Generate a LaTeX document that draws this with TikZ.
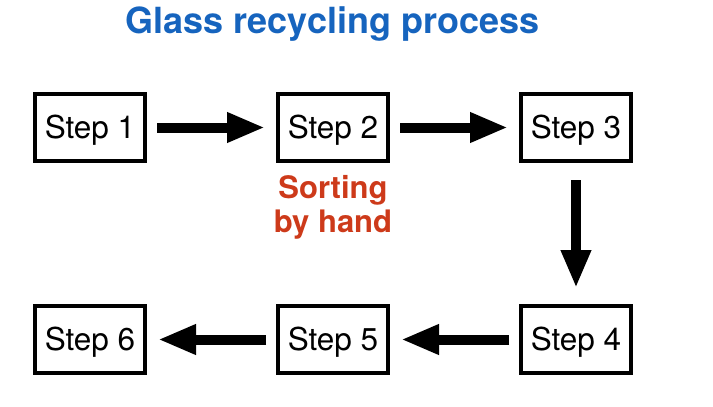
\documentclass[tikz,border=0pt]{standalone}
\usepackage{fontspec}
\setmainfont{TeX Gyre Heros}
\usetikzlibrary{calc}
\usetikzlibrary{arrows.meta}
\definecolor{titleblue}{RGB}{22,100,190}
\definecolor{notered}{RGB}{205,58,26}

\begin{document}
\begin{tikzpicture}
% define boxes and arrow heads
[
    x=1pt, y=-1pt,
    stepbox/.style={draw, line width=4pt, minimum width=110pt, minimum height=67pt,
      inner sep=0pt, text height=23pt, text depth=1.4pt,
      font=\fontsize{31.5}{34}\selectfont},
    flow/.style={line width=10pt, -{Triangle[length=38pt,width=28pt]},
      shorten <=10pt, shorten >=11pt}
]
\useasboundingbox (0,0) rectangle (713,407);
% spacing
\pgfmathsetmacro{\dx}{243}
\pgfmathsetmacro{\dy}{212}

% title
\node[anchor=base, text=titleblue, font=\bfseries\fontsize{36}{40}\selectfont] (title) at (332.5,33) {Glass recycling process};

% top row
\node[stepbox] (s1) at (90,127.5) {Step 1};
\node[stepbox] (s2) at ($(s1)+(\dx,0)$) {Step 2};
\node[stepbox] (s3) at ($(s2)+(\dx,0)$) {Step 3};

% bottom row
\node[stepbox] (s4) at ($(s3)+(0,\dy)$) {Step 4};
\node[stepbox] (s5) at ($(s4)-(\dx,0)$) {Step 5};
\node[stepbox] (s6) at ($(s5)-(\dx,0)$) {Step 6};

% note under step 2 (base = last line)
\node[anchor=base, align=center, text=notered, font=\bfseries\fontsize{31}{34}\selectfont] (sorting) at (333,232) {Sorting\\by hand};

% arrows
\draw[flow] (s1) -- (s2);
\draw[flow] (s2) -- (s3);
\draw[flow, shorten <=17pt, shorten >=16pt] (s3) -- (s4);
\draw[flow] (s4) -- (s5);
\draw[flow] (s5) -- (s6);
\end{tikzpicture}
\end{document}
